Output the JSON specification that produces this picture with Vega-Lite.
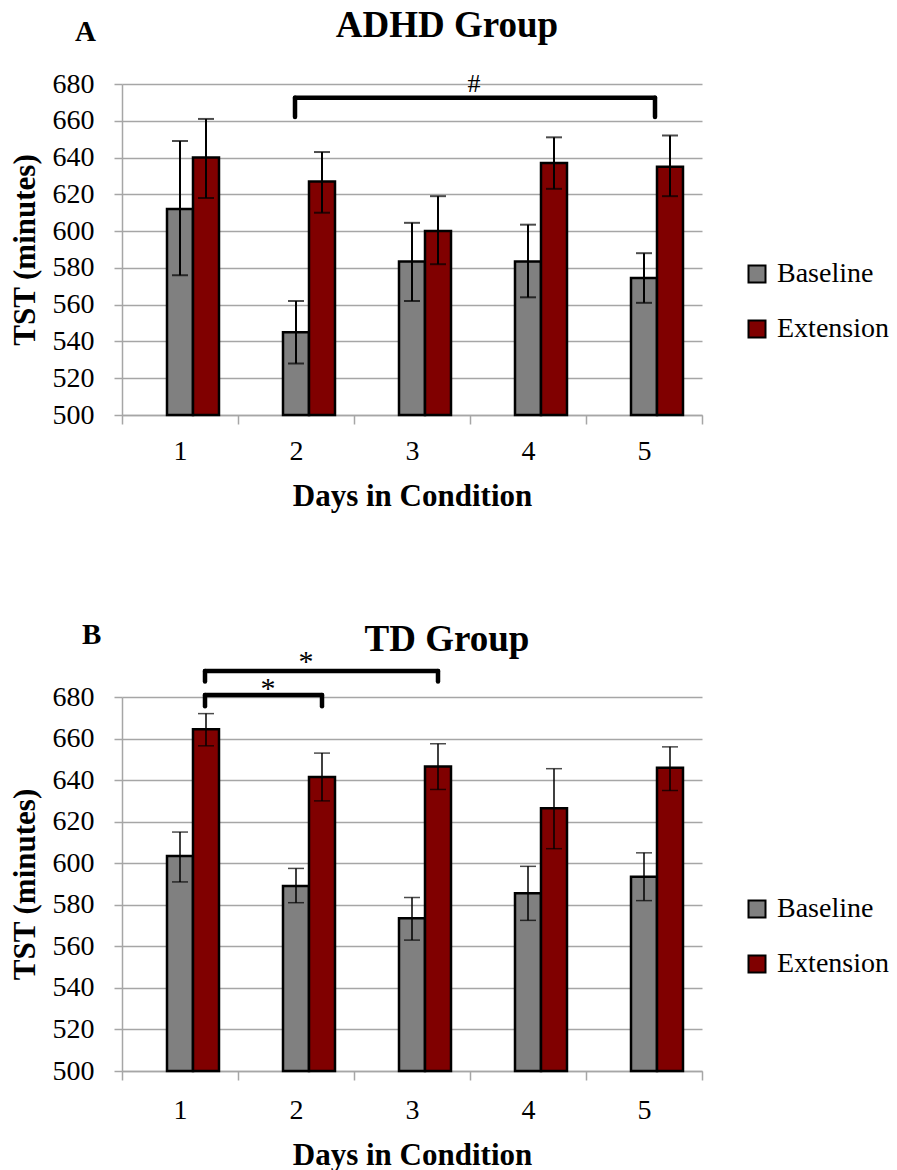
{
  "$schema": "https://vega.github.io/schema/vega-lite/v6.json",
  "background": "white",
  "padding": {"left": 9, "top": 7, "right": 5, "bottom": 5},
  "config": {
    "font": "Liberation Serif",
    "view": {"stroke": null},
    "axis": {
      "labelFont": "Liberation Serif", "labelFontSize": 28, "labelColor": "#000", "labelOverlap": false,
      "titleFont": "Liberation Serif", "titleFontSize": 31, "titleFontWeight": "bold", "titleColor": "#000",
      "domainColor": "#a6a6a6", "domainWidth": 1.5, "tickColor": "#a6a6a6", "tickWidth": 1.5,
      "gridColor": "#a6a6a6", "gridWidth": 1.5
    },
    "title": {"font": "Liberation Serif", "fontSize": 37, "fontWeight": "bold", "color": "#000"}
  },
  "datasets": {
    "adhd": [
      {"Day": 1, "Condition": "Baseline", "TST": 612, "Low": 576, "High": 649},
      {"Day": 1, "Condition": "Extension", "TST": 640, "Low": 618, "High": 661},
      {"Day": 2, "Condition": "Baseline", "TST": 545, "Low": 528, "High": 562},
      {"Day": 2, "Condition": "Extension", "TST": 627, "Low": 610, "High": 643},
      {"Day": 3, "Condition": "Baseline", "TST": 583.5, "Low": 562, "High": 604.5},
      {"Day": 3, "Condition": "Extension", "TST": 600, "Low": 582, "High": 619},
      {"Day": 4, "Condition": "Baseline", "TST": 583.5, "Low": 564, "High": 603.5},
      {"Day": 4, "Condition": "Extension", "TST": 637, "Low": 623, "High": 651},
      {"Day": 5, "Condition": "Baseline", "TST": 574.5, "Low": 561, "High": 588},
      {"Day": 5, "Condition": "Extension", "TST": 635, "Low": 619, "High": 652}
    ],
    "td": [
      {"Day": 1, "Condition": "Baseline", "TST": 603.5, "Low": 591, "High": 615},
      {"Day": 1, "Condition": "Extension", "TST": 664.5, "Low": 656.5, "High": 672},
      {"Day": 2, "Condition": "Baseline", "TST": 589, "Low": 581, "High": 597.5},
      {"Day": 2, "Condition": "Extension", "TST": 641.5, "Low": 630, "High": 653},
      {"Day": 3, "Condition": "Baseline", "TST": 573.5, "Low": 563, "High": 583.5},
      {"Day": 3, "Condition": "Extension", "TST": 646.5, "Low": 635.5, "High": 657.5},
      {"Day": 4, "Condition": "Baseline", "TST": 585.5, "Low": 572.5, "High": 598.5},
      {"Day": 4, "Condition": "Extension", "TST": 626.5, "Low": 607, "High": 645.5},
      {"Day": 5, "Condition": "Baseline", "TST": 593.5, "Low": 582, "High": 605},
      {"Day": 5, "Condition": "Extension", "TST": 646, "Low": 635, "High": 656}
    ],
    "bracketsA": [
      {"id": "d2-d5", "from": 2, "to": 5, "top": 672.5, "bottom": 662, "label": "#", "labelY": 680}
    ],
    "bracketsB": [
      {"id": "d1-d3", "from": 1, "to": 3, "top": 692.5, "bottom": 687.5, "label": "*", "labelY": 697},
      {"id": "d1-d2", "from": 1, "to": 2, "top": 681, "bottom": 675.5, "label": "*", "labelY": 684}
    ]
  },
  "resolve": {"legend": {"color": "independent"}},
  "spacing": 109,
  "vconcat": [
    {
      "title": {"text": "A", "anchor": "start", "fontSize": 29, "offset": -40, "dx": 66},
      "resolve": {"legend": {"color": "independent"}},
      "vconcat": [
        {
          "title": {"text": "ADHD Group", "dx": 35, "offset": 25},
          "width": 580,
          "height": 331,
          "layer": [
            {
              "data": {"name": "adhd"},
              "mark": {"type": "bar", "stroke": "#000", "strokeWidth": 2.5},
              "encoding": {
                "x": {"field": "Day", "type": "ordinal", "title": "Days in Condition",
                  "scale": {"paddingInner": 0, "paddingOuter": 0},
                  "axis": {"labelAngle": 0, "tickBand": "extent", "tickSize": 9, "labelPadding": 13, "titlePadding": 16, "grid": false}},
                "xOffset": {"field": "Condition", "type": "nominal", "scale": {"domain": ["", "Baseline", "Extension"], "paddingInner": 0, "paddingOuter": 0.7308}},
                "y": {"field": "TST", "type": "quantitative", "title": "TST (minutes)",
                  "scale": {"domain": [500, 680], "nice": false, "zero": false},
                  "axis": {"values": [500, 520, 540, 560, 580, 600, 620, 640, 660, 680], "tickCount": 10, "tickSize": 8, "labelPadding": 20, "titlePadding": 11, "grid": true}},
                "y2": {"datum": 500},
                "color": {"field": "Condition", "type": "nominal",
                  "scale": {"domain": ["Baseline", "Extension"], "range": ["#808080", "#800000"]},
                  "legend": {"title": null, "orient": "none", "legendX": 621, "legendY": 176, "padding": 0,
                    "labelFont": "Liberation Serif", "labelFontSize": 28, "labelColor": "#000",
                    "symbolType": "square", "symbolSize": 289, "symbolStrokeColor": "#000", "symbolStrokeWidth": 2,
                    "symbolOpacity": 1, "rowPadding": 27, "labelOffset": 6}}
              }
            },
            {
              "data": {"name": "adhd"},
              "mark": {"type": "rule", "color": "#000", "strokeWidth": 2},
              "encoding": {
                "x": {"field": "Day", "type": "ordinal", "title": "Days in Condition"},
                "xOffset": {"field": "Condition", "type": "nominal"},
                "y": {"field": "Low", "type": "quantitative", "title": "TST (minutes)"},
                "y2": {"field": "High"}
              }
            },
            {
              "data": {"name": "adhd"},
              "mark": {"type": "tick", "color": "#000", "thickness": 2, "size": 16},
              "encoding": {
                "x": {"field": "Day", "type": "ordinal", "title": "Days in Condition"},
                "xOffset": {"field": "Condition", "type": "nominal"},
                "y": {"field": "Low", "type": "quantitative", "title": "TST (minutes)"}
              }
            },
            {
              "data": {"name": "adhd"},
              "mark": {"type": "tick", "color": "#000", "thickness": 2, "size": 16},
              "encoding": {
                "x": {"field": "Day", "type": "ordinal", "title": "Days in Condition"},
                "xOffset": {"field": "Condition", "type": "nominal"},
                "y": {"field": "High", "type": "quantitative", "title": "TST (minutes)"}
              }
            },
            {
              "data": {"name": "bracketsA"},
              "mark": {"type": "rule", "color": "#000", "strokeWidth": 4.5, "strokeCap": "round", "xOffset": -1, "x2Offset": 11},
              "encoding": {
                "x": {"field": "from", "type": "ordinal", "title": "Days in Condition"},
                "x2": {"field": "to"},
                "y": {"field": "top", "type": "quantitative", "title": "TST (minutes)"}
              }
            },
            {
              "data": {"name": "bracketsA"},
              "mark": {"type": "rule", "color": "#000", "strokeWidth": 4.5, "strokeCap": "round", "xOffset": -1},
              "encoding": {
                "x": {"field": "from", "type": "ordinal", "title": "Days in Condition"},
                "y": {"field": "top", "type": "quantitative", "title": "TST (minutes)"},
                "y2": {"field": "bottom"}
              }
            },
            {
              "data": {"name": "bracketsA"},
              "mark": {"type": "rule", "color": "#000", "strokeWidth": 4.5, "strokeCap": "round", "xOffset": 11},
              "encoding": {
                "x": {"field": "to", "type": "ordinal", "title": "Days in Condition"},
                "y": {"field": "top", "type": "quantitative", "title": "TST (minutes)"},
                "y2": {"field": "bottom"}
              }
            },
            {
              "data": {"name": "bracketsA"},
              "mark": {"type": "text", "font": "Liberation Serif", "fontSize": 26, "color": "#000", "dx": 178, "baseline": "middle"},
              "encoding": {
                "x": {"field": "from", "type": "ordinal", "title": "Days in Condition"},
                "y": {"field": "labelY", "type": "quantitative", "title": "TST (minutes)"},
                "text": {"field": "label"}
              }
            }
          ]
        }
      ]
    },
    {
      "title": {"text": "B", "anchor": "start", "fontSize": 29, "offset": -29, "dx": 73},
      "resolve": {"legend": {"color": "independent"}},
      "vconcat": [
        {
          "title": {"text": "TD Group", "dx": 35, "offset": -12},
          "width": 580,
          "height": 374,
          "layer": [
            {
              "data": {"name": "td"},
              "mark": {"type": "bar", "stroke": "#000", "strokeWidth": 2.5},
              "encoding": {
                "x": {"field": "Day", "type": "ordinal", "title": "Days in Condition",
                  "scale": {"paddingInner": 0, "paddingOuter": 0},
                  "axis": {"labelAngle": 0, "tickBand": "extent", "tickSize": 9, "labelPadding": 16, "titlePadding": 16, "grid": false}},
                "xOffset": {"field": "Condition", "type": "nominal", "scale": {"domain": ["", "Baseline", "Extension"], "paddingInner": 0, "paddingOuter": 0.7308}},
                "y": {"field": "TST", "type": "quantitative", "title": "TST (minutes)",
                  "scale": {"domain": [500, 680], "nice": false, "zero": false},
                  "axis": {"values": [500, 520, 540, 560, 580, 600, 620, 640, 660, 680], "tickCount": 10, "tickSize": 8, "labelPadding": 20, "titlePadding": 11, "grid": true}},
                "y2": {"datum": 500},
                "color": {"field": "Condition", "type": "nominal",
                  "scale": {"domain": ["Baseline", "Extension"], "range": ["#808080", "#800000"]},
                  "legend": {"title": null, "orient": "none", "legendX": 621, "legendY": 198, "padding": 0,
                    "labelFont": "Liberation Serif", "labelFontSize": 28, "labelColor": "#000",
                    "symbolType": "square", "symbolSize": 289, "symbolStrokeColor": "#000", "symbolStrokeWidth": 2,
                    "symbolOpacity": 1, "rowPadding": 27, "labelOffset": 6}}
              }
            },
            {
              "data": {"name": "td"},
              "mark": {"type": "rule", "color": "#000", "strokeWidth": 1.5},
              "encoding": {
                "x": {"field": "Day", "type": "ordinal", "title": "Days in Condition"},
                "xOffset": {"field": "Condition", "type": "nominal"},
                "y": {"field": "Low", "type": "quantitative", "title": "TST (minutes)"},
                "y2": {"field": "High"}
              }
            },
            {
              "data": {"name": "td"},
              "mark": {"type": "tick", "color": "#000", "thickness": 1.5, "size": 16},
              "encoding": {
                "x": {"field": "Day", "type": "ordinal", "title": "Days in Condition"},
                "xOffset": {"field": "Condition", "type": "nominal"},
                "y": {"field": "Low", "type": "quantitative", "title": "TST (minutes)"}
              }
            },
            {
              "data": {"name": "td"},
              "mark": {"type": "tick", "color": "#000", "thickness": 1.5, "size": 16},
              "encoding": {
                "x": {"field": "Day", "type": "ordinal", "title": "Days in Condition"},
                "xOffset": {"field": "Condition", "type": "nominal"},
                "y": {"field": "High", "type": "quantitative", "title": "TST (minutes)"}
              }
            },
            {
              "data": {"name": "bracketsB"},
              "mark": {"type": "rule", "color": "#000", "strokeWidth": 4.5, "strokeCap": "round", "xOffset": 25, "x2Offset": 26},
              "encoding": {
                "x": {"field": "from", "type": "ordinal", "title": "Days in Condition"},
                "x2": {"field": "to"},
                "y": {"field": "top", "type": "quantitative", "title": "TST (minutes)"}
              }
            },
            {
              "data": {"name": "bracketsB"},
              "mark": {"type": "rule", "color": "#000", "strokeWidth": 4.5, "strokeCap": "round", "xOffset": 25},
              "encoding": {
                "x": {"field": "from", "type": "ordinal", "title": "Days in Condition"},
                "y": {"field": "top", "type": "quantitative", "title": "TST (minutes)"},
                "y2": {"field": "bottom"}
              }
            },
            {
              "data": {"name": "bracketsB"},
              "mark": {"type": "rule", "color": "#000", "strokeWidth": 4.5, "strokeCap": "round", "xOffset": 26},
              "encoding": {
                "x": {"field": "to", "type": "ordinal", "title": "Days in Condition"},
                "y": {"field": "top", "type": "quantitative", "title": "TST (minutes)"},
                "y2": {"field": "bottom"}
              }
            },
            {
              "data": {"name": "bracketsB"},
              "transform": [{"filter": "datum.id === 'd1-d3'"}],
              "mark": {"type": "text", "font": "Liberation Serif", "fontSize": 30, "color": "#000", "dx": 126, "baseline": "middle"},
              "encoding": {
                "x": {"field": "from", "type": "ordinal", "title": "Days in Condition"},
                "y": {"field": "labelY", "type": "quantitative", "title": "TST (minutes)"},
                "text": {"field": "label"}
              }
            },
            {
              "data": {"name": "bracketsB"},
              "transform": [{"filter": "datum.id === 'd1-d2'"}],
              "mark": {"type": "text", "font": "Liberation Serif", "fontSize": 30, "color": "#000", "dx": 88, "baseline": "middle"},
              "encoding": {
                "x": {"field": "from", "type": "ordinal", "title": "Days in Condition"},
                "y": {"field": "labelY", "type": "quantitative", "title": "TST (minutes)"},
                "text": {"field": "label"}
              }
            }
          ]
        }
      ]
    }
  ]
}
